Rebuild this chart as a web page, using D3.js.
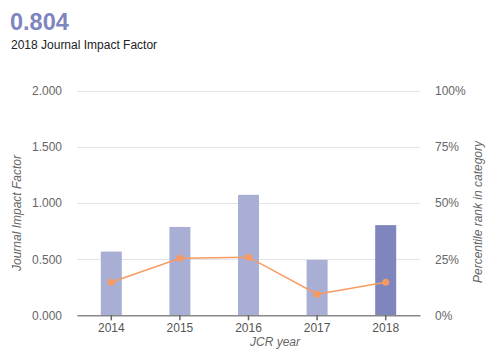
<!DOCTYPE html>
<html><head><meta charset="utf-8">
<script src="https://cdn.jsdelivr.net/npm/d3@7"></script>
<style>body{margin:0;background:#fff}svg{font-family:"Liberation Sans",Arial,sans-serif}</style>
</head><body><svg id="c" width="498" height="350"></svg>
<script>
const years = ["2014","2015","2016","2017","2018"];
const jif = [0.568, 0.788, 1.074, 0.494, 0.804];
const pct = [14.7, 25.4, 25.9, 9.4, 14.7];
const leftTicks = [0, 0.5, 1, 1.5, 2];
const rightTicks = [0, 25, 50, 75, 100];

const svg = d3.select("#c");
const L = 77, R = 420, T = 91, B = 315.3;
const x = d3.scaleBand().domain(years).range([L, R]).paddingInner(0).paddingOuter(0);
const y = d3.scaleLinear().domain([0, 2]).range([B, T]);
const y2 = d3.scaleLinear().domain([0, 100]).range([B, T]);

svg.append("text").attr("x", 10).attr("y", 30).attr("font-size", 23.5).attr("font-weight", "bold")
  .attr("fill", "#7f86bf").text("0.804");
svg.append("text").attr("x", 11).attr("y", 49).attr("font-size", 12).attr("fill", "#222")
  .text("2018 Journal Impact Factor");

// grid
svg.append("g").selectAll("line").data(leftTicks.slice(1)).join("line")
  .attr("x1", L).attr("x2", R).attr("y1", d => Math.round(y(d)) + 0.5).attr("y2", d => Math.round(y(d)) + 0.5)
  .attr("stroke", "#e3e3eb").attr("stroke-width", 1);

// bars
const bw = 21;
svg.append("g").selectAll("rect").data(years).join("rect")
  .attr("x", d => x(d) + x.bandwidth() / 2 - bw / 2)
  .attr("width", bw)
  .attr("y", (d, i) => y(jif[i]))
  .attr("height", (d, i) => B - y(jif[i]))
  .attr("fill", (d, i) => i === years.length - 1 ? "#7e86bd" : "#a9aed4");

// baseline axis
const xa = svg.append("g").attr("transform", `translate(0,${B})`)
  .call(d3.axisBottom(x).tickSize(5).tickSizeOuter(0).tickPadding(3));
xa.select(".domain").attr("stroke", "#888").attr("stroke-width", 1.5);
xa.selectAll(".tick line").attr("stroke", "#666").attr("stroke-width", 1.5);
xa.selectAll("text").attr("font-size", 12).attr("fill", "#555").attr("font-family", "Liberation Sans, Arial, sans-serif");

// left labels
const ya = svg.append("g").attr("transform", `translate(${L - 15},0)`)
  .call(d3.axisLeft(y).tickValues(leftTicks).tickFormat(d3.format(".3f")).tickSize(0).tickPadding(0));
ya.select(".domain").remove();
ya.selectAll("text").attr("font-size", 12).attr("fill", "#666").attr("font-family", "Liberation Sans, Arial, sans-serif");

const ya2 = svg.append("g").attr("transform", `translate(${R + 15},0)`)
  .call(d3.axisRight(y2).tickValues(rightTicks).tickFormat(d => d + "%").tickSize(0).tickPadding(0));
ya2.select(".domain").remove();
ya2.selectAll("text").attr("font-size", 12).attr("fill", "#666").attr("font-family", "Liberation Sans, Arial, sans-serif");

// line
const line = d3.line().x((d, i) => x(years[i]) + x.bandwidth() / 2).y(d => y2(d));
svg.append("path").datum(pct).attr("d", line).attr("fill", "none").attr("stroke", "#f79a62").attr("stroke-width", 1.5);
svg.append("g").selectAll("circle").data(pct).join("circle")
  .attr("cx", (d, i) => x(years[i]) + x.bandwidth() / 2).attr("cy", d => y2(d)).attr("r", 3.5)
  .attr("fill", "#f79a62");

// axis titles
svg.append("text").attr("transform", `translate(21,213) rotate(-90)`).attr("text-anchor", "middle")
  .attr("font-size", 12).attr("font-style", "italic").attr("fill", "#666").text("Journal Impact Factor");
svg.append("text").attr("transform", `translate(482,212) rotate(-90)`).attr("text-anchor", "middle")
  .attr("font-size", 12).attr("font-style", "italic").attr("fill", "#666").text("Percentile rank in category");
svg.append("text").attr("x", 275).attr("y", 346).attr("text-anchor", "middle")
  .attr("font-size", 12).attr("font-style", "italic").attr("fill", "#666").text("JCR year");
</script></body></html>
